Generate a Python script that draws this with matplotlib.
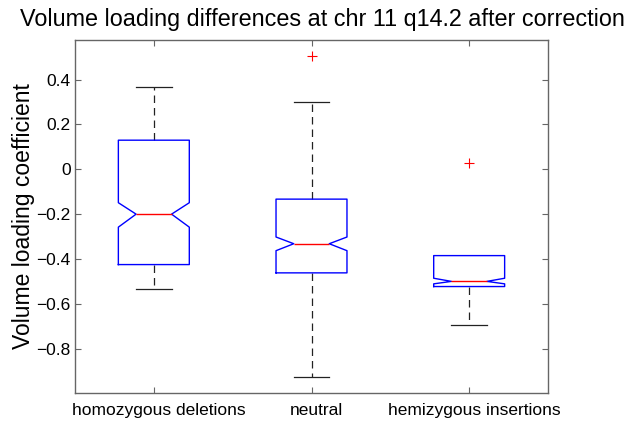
import matplotlib.pyplot as plt
import matplotlib.transforms as mtransforms

plt.rcParams["font.family"] = ["Liberation Sans", "DejaVu Sans"]

# values
groups = ["homozygous deletions", "neutral", "hemizygous insertions"]
medians = [-0.200, -0.332, -0.500]
q1 = [-0.425, -0.462, -0.523]
q3 = [0.130, -0.133, -0.385]
whisker_lo = [-0.536, -0.926, -0.695]
whisker_hi = [0.367, 0.300, -0.385]
notch_lo = [-0.258, -0.363, -0.511]
notch_hi = [-0.149, -0.302, -0.486]
outliers = [[], [0.505], [0.027]]

stats = []
for i, name in enumerate(groups):
    stats.append(
        {
            "label": name,
            "med": medians[i],
            "q1": q1[i],
            "q3": q3[i],
            "whislo": whisker_lo[i],
            "whishi": whisker_hi[i],
            "cilo": notch_lo[i],
            "cihi": notch_hi[i],
            "fliers": outliers[i],
        }
    )

fig = plt.figure(figsize=(6.36, 4.30), dpi=100)
ax = fig.add_axes([75 / 636, 37 / 430, 473 / 636, 353 / 430])

parts = ax.bxp(
    stats,
    positions=[1, 2, 3],
    widths=0.45,
    shownotches=True,
    boxprops=dict(color="#0000ff", linewidth=1.0, zorder=3),
    medianprops=dict(color="#ff0000", linewidth=1.0, zorder=3),
    whiskerprops=dict(color="#222222", linewidth=0.9, linestyle=(0, (6, 4)), zorder=2),
    capprops=dict(color="#222222", linewidth=0.9, zorder=2),
    flierprops=dict(marker="+", markeredgecolor="#ff0000", markersize=7,
                    markeredgewidth=0.8, linestyle="none"),
)

# no visible upper whisker where it ends at the box edge
for i in range(len(groups)):
    if whisker_hi[i] == q3[i]:
        parts["caps"][2 * i + 1].set_visible(False)
        parts["whiskers"][2 * i + 1].set_visible(False)

ax.set_xlim(0.5, 3.5)
ax.set_ylim(-0.998, 0.577)
ax.set_yticks([-0.8, -0.6, -0.4, -0.2, 0, 0.2, 0.4])
ax.set_yticklabels(["\u22120.8", "\u22120.6", "\u22120.4", "\u22120.2", "0", "0.2", "0.4"])
ax.set_xticks([1, 2, 3])
ax.set_xticklabels(groups)

for s in ax.spines.values():
    s.set_color("#666666")
    s.set_linewidth(1.0)
ax.tick_params(direction="in", top=True, right=True, length=4, color="#666666",
               labelsize=12.5)
ax.tick_params(axis="x", pad=7)
ax.tick_params(axis="y", pad=3)

shift = mtransforms.ScaledTranslation(5 / 100, 0, fig.dpi_scale_trans)
for lab in ax.get_xticklabels():
    lab.set_transform(lab.get_transform() + shift)

ax.set_ylabel("Volume loading coefficient", fontsize=16.5, labelpad=1)
ax.set_title("Volume loading differences at chr 11 q14.2 after correction",
             fontsize=16.8, pad=10, x=0.524)

fig.savefig("out.png", dpi=100)
